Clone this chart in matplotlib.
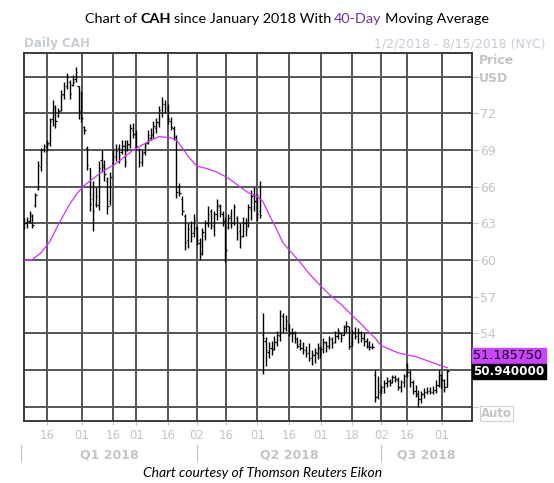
import pandas as pd
import matplotlib
matplotlib.use('Agg')
import matplotlib.pyplot as plt
from matplotlib.patches import Rectangle

# daily OHLC, one bar per trading day starting 2018-01-02
opens = [62.8, 63.0, 63.2, 63.6, 64.5, 65.8, 67.6, 69.0, 69.3, 69.6,
         71.5, 72.4, 71.8, 72.3, 73.5, 74.2, 74.6, 74.3, 74.8, 74.2,
         72.2, 70.9, 69.2, 67.5, 65.0, 64.6, 64.5, 68.2, 67.8, 66.5,
         64.8, 67.9, 68.4, 69.2, 68.8, 69.3, 69.0, 69.4, 70.6, 70.2,
         69.0, 68.0, 68.8, 69.6, 70.0, 70.2, 70.8, 71.2, 72.0, 72.8,
         72.3, 71.4, 70.8, 69.9, 66.0, 65.0, 63.6, 61.6, 62.8, 62.2,
         62.6, 61.4, 60.6, 62.0, 63.0, 64.0, 62.8, 63.8, 64.4, 63.8,
         63.2, 62.7, 63.6, 63.0, 63.4, 62.4, 62.0, 63.0, 62.8, 64.2,
         65.4, 64.8, 64.0, 53.9, 53.4, 52.5, 52.8, 52.7, 53.3, 53.8,
         55.4, 54.4, 54.8, 54.0, 54.0, 53.5, 53.1, 52.8, 52.6, 52.4,
         52.0, 52.2, 52.4, 52.8, 52.7, 53.2, 53.0, 53.5, 53.3, 53.8,
         54.0, 53.9, 54.5, 54.5, 53.2, 54.0, 53.8, 54.0, 53.6, 53.4,
         53.0, 52.9, 50.6, 48.9, 49.4, 49.6, 49.9, 50.1, 50.0, 50.4,
         50.2, 49.6, 50.0, 50.6, 50.8, 50.0, 49.3, 49.0, 48.6, 49.0,
         49.2, 49.3, 49.2, 49.4, 49.8, 50.6, 50.2, 49.6]
highs = [63.4, 63.5, 64.0, 63.8, 65.5, 68.1, 69.2, 69.5, 69.8, 71.6,
         73.1, 72.7, 72.4, 73.9, 74.6, 75.3, 74.7, 75.1, 75.8, 74.2,
         73.8, 71.0, 69.3, 67.5, 66.5, 66.0, 68.1, 69.0, 68.2, 66.8,
         67.2, 69.1, 69.5, 69.5, 69.8, 69.8, 69.8, 71.1, 71.2, 70.6,
         69.2, 69.0, 69.6, 70.6, 70.8, 71.4, 71.6, 72.6, 73.3, 73.1,
         72.8, 71.7, 71.0, 70.2, 66.3, 65.2, 63.8, 63.0, 63.2, 63.8,
         62.8, 61.8, 62.6, 63.3, 64.4, 64.2, 64.0, 65.0, 64.6, 64.0,
         63.5, 63.8, 64.2, 64.6, 63.6, 63.0, 63.5, 63.4, 64.6, 65.7,
         66.0, 65.4, 66.5, 55.7, 53.7, 53.3, 53.4, 53.8, 54.2, 55.9,
         55.7, 55.5, 54.8, 54.4, 54.2, 53.7, 53.5, 53.3, 53.0, 53.2,
         52.6, 52.8, 53.2, 53.0, 53.6, 53.4, 53.8, 53.7, 54.2, 54.4,
         54.0, 54.7, 55.0, 54.6, 54.3, 54.5, 54.4, 54.2, 54.0, 53.6,
         53.4, 53.2, 51.0, 50.5, 49.8, 50.2, 50.4, 50.3, 50.6, 50.6,
         50.4, 50.2, 50.7, 51.6, 51.0, 50.2, 49.8, 49.4, 49.3, 49.5,
         49.6, 49.6, 49.7, 50.2, 51.0, 50.7, 50.3, 51.0]
lows = [62.5, 62.6, 63.0, 62.6, 64.3, 65.7, 67.3, 68.8, 68.9, 69.3,
        71.0, 70.8, 71.7, 72.2, 73.2, 74.0, 73.2, 74.2, 74.6, 71.5,
        71.3, 70.3, 67.4, 64.0, 62.4, 64.3, 64.1, 67.2, 66.5, 63.8,
        64.5, 67.8, 68.1, 67.9, 68.7, 67.6, 68.9, 69.2, 70.0, 69.0,
        67.6, 67.7, 68.6, 69.5, 69.8, 70.0, 70.4, 70.9, 71.7, 72.0,
        71.1, 70.6, 69.8, 65.1, 65.2, 63.7, 60.8, 61.0, 61.5, 61.9,
        61.2, 60.0, 60.4, 61.6, 62.7, 62.5, 62.0, 63.3, 63.5, 62.8,
        59.8, 62.5, 62.6, 62.9, 61.6, 61.0, 61.9, 62.0, 62.7, 63.3,
        64.0, 63.3, 63.4, 50.7, 51.3, 52.0, 52.2, 52.6, 53.0, 53.4,
        54.0, 54.2, 53.8, 53.3, 53.2, 52.8, 52.6, 52.3, 52.1, 51.7,
        51.4, 51.6, 51.9, 52.0, 52.4, 52.5, 52.7, 52.8, 53.2, 53.5,
        53.3, 53.9, 54.1, 52.7, 53.0, 53.5, 53.2, 53.3, 53.0, 52.8,
        52.6, 52.7, 48.4, 48.6, 49.0, 49.1, 49.6, 49.7, 49.9, 50.0,
        49.4, 49.2, 49.6, 50.4, 49.6, 49.0, 48.8, 48.0, 48.3, 48.7,
        49.0, 49.0, 49.0, 49.1, 49.6, 49.5, 49.2, 49.6]
closes = [63.0, 63.2, 63.8, 62.9, 65.3, 67.8, 69.0, 69.3, 69.5, 71.4,
          72.6, 71.4, 72.2, 73.6, 74.2, 75.0, 73.6, 74.6, 75.4, 72.0,
          71.6, 70.6, 67.8, 64.6, 64.0, 65.2, 67.5, 67.6, 67.0, 64.4,
          66.8, 68.5, 68.9, 68.6, 69.4, 68.0, 69.5, 70.8, 70.3, 69.3,
          68.0, 68.7, 69.4, 70.2, 70.3, 71.0, 71.3, 72.3, 72.8, 72.4,
          71.5, 70.9, 70.1, 65.6, 65.5, 64.0, 61.5, 62.5, 62.0, 63.3,
          61.6, 60.5, 62.3, 63.0, 63.8, 62.9, 63.8, 64.6, 63.9, 63.2,
          60.8, 63.4, 63.0, 64.3, 62.2, 61.8, 63.0, 62.5, 64.3, 65.2,
          64.8, 63.8, 63.7, 53.6, 52.6, 52.8, 52.6, 53.3, 53.9, 55.4,
          54.4, 55.0, 54.0, 54.0, 53.5, 53.0, 52.8, 52.6, 52.4, 52.0,
          52.3, 52.5, 52.8, 52.7, 53.3, 53.0, 53.5, 53.2, 53.8, 54.2,
          53.6, 54.5, 54.6, 53.0, 54.0, 53.8, 54.1, 53.6, 53.4, 53.0,
          52.9, 52.9, 48.8, 49.2, 49.6, 49.9, 50.1, 49.9, 50.4, 50.3,
          49.6, 50.0, 50.5, 50.8, 50.0, 49.3, 49.0, 48.6, 49.0, 49.2,
          49.3, 49.2, 49.4, 49.8, 50.6, 50.2, 49.6, 50.94]

# 40-day moving average (bar index, value)
ma_idx = [0, 3, 6, 9, 12, 16, 19, 21, 27, 32, 38, 44, 47, 51, 53, 55, 57,
          60, 64, 67, 71, 75, 78, 81, 83, 85, 88, 90, 93, 96, 99, 103, 106,
          110, 113, 117, 119, 122, 124, 130, 136, 142, 147]
ma_vals = [59.95, 60.05, 60.6, 61.5, 62.9, 64.6, 65.6, 66.1, 67.2, 67.9,
           69.0, 69.8, 70.1, 70.0, 69.8, 69.2, 68.5, 67.7, 67.45, 67.2,
           66.7, 66.0, 65.5, 65.2, 64.8, 63.8, 62.4, 61.4, 60.6, 59.8,
           58.9, 57.9, 57.2, 56.4, 55.7, 54.8, 54.3, 53.6, 53.0, 52.4,
           52.1, 51.6, 51.19]

holidays = ['2018-01-15', '2018-02-19', '2018-03-30', '2018-05-28', '2018-07-04']
tick_dates = ['2018-01-16', '2018-02-01', '2018-02-16', '2018-03-01', '2018-03-16',
              '2018-04-02', '2018-04-16', '2018-05-01', '2018-05-16', '2018-06-01',
              '2018-06-18', '2018-07-02', '2018-07-16', '2018-08-01']
tick_labels = ['16', '01', '16', '01', '16', '02', '16', '01', '16', '01',
               '18', '02', '16', '01']
quarter_starts = ['2018-01-02', '2018-04-02', '2018-07-02']
quarter_labels = ['Q1 2018', 'Q2 2018', 'Q3 2018']
price_ticks = [48, 51, 54, 57, 60, 63, 66, 69, 72, 75]
last_ma = 51.185750
last_close = 50.940000

days = pd.bdate_range('2018-01-02', '2018-08-15')
days = days[~days.isin(pd.to_datetime(holidays))]
pos = {d: i for i, d in enumerate(days)}
grid_x = [pos[pd.Timestamp(d)] - 0.9 for d in tick_dates]
q_x = [pos[pd.Timestamp(d)] - 0.9 for d in quarter_starts]

W, H = 554, 483
GRAY = '#c4c4c4'

fig = plt.figure(figsize=(W / 100, H / 100), dpi=100)
ax = fig.add_axes([23.5 / W, 62 / H, 448.5 / W, 368 / H])

x = list(range(len(closes)))
ax.vlines(x, lows, highs, color='black', lw=1.0, zorder=3)
ax.hlines(opens, [i - 0.45 for i in x], x, color='black', lw=0.9, zorder=3)
ax.hlines(closes, x, [i + 0.45 for i in x], color='black', lw=0.9, zorder=3)
ax.plot(ma_idx, ma_vals, color='#cc33ff', lw=0.9, zorder=4)

ax.set_xlim(-0.1, 155.6)
ax.set_ylim(46.83, 76.94)
ax.set_xticks(grid_x)
ax.set_xticklabels(tick_labels)
ax.set_yticks(price_ticks)
ax.set_yticklabels(['' if v in (48, 51, 75) else str(v) for v in price_ticks])
ax.yaxis.tick_right()
ax.grid(True, color='#555555', lw=1.4, zorder=1)
ax.tick_params(axis='x', colors=GRAY, length=3, width=0.8, pad=3, labelsize=8.5)
ax.tick_params(axis='y', colors=GRAY, length=4.5, width=0.8, pad=1, labelsize=9)
for s in ax.spines.values():
    s.set_color('#3a3a3a')
    s.set_linewidth(1.4)

# quarter row under the date ticks
tr = ax.get_xaxis_transform()
edges = q_x + [ax.get_xlim()[1]]
for i, lab in enumerate(quarter_labels):
    ax.plot([q_x[i], q_x[i]], [-0.065, -0.11], transform=tr, color=GRAY,
            lw=0.9, clip_on=False)
    ax.text((edges[i] + edges[i + 1]) / 2, -0.092, lab, transform=tr,
            ha='center', va='center', color=GRAY, fontsize=9, fontweight='bold')


def fx(px):
    return px / W


def fy(py):
    return 1 - py / H


# title with mixed styles
renderer = fig.canvas.get_renderer()
parts = [('Chart of', {}), ('CAH', {'fontweight': 'bold'}),
         ('since January 2018 With', {}), ('40-Day', {'color': '#7030a0'}),
         ('Moving Average', {})]
texts = [fig.text(0, fy(19), s, fontsize=10.4, family='Lato', va='center', **kw)
         for s, kw in parts]
widths = [t.get_window_extent(renderer).width for t in texts]
space = 3.0
total = sum(widths) + space * (len(widths) - 1)
cur = 287 - total / 2
for t, w in zip(texts, widths):
    t.set_x(fx(cur))
    cur += w + space

fig.text(fx(24), fy(44), 'Daily CAH', fontsize=8.6, fontweight='bold',
         color='#c8ccd4', va='center')
fig.text(fx(545), fy(44), '1/2/2018 - 8/15/2018 (NYC)', fontsize=9,
         color='#c8ccd4', va='center', ha='right')
fig.text(fx(479), fy(61), 'Price', fontsize=9, fontweight='bold', color=GRAY,
         va='center')
fig.text(fx(479), fy(78), 'USD', fontsize=9, fontweight='bold', color=GRAY,
         va='center')

# last value boxes
fig.patches.append(Rectangle((fx(472), fy(363)), 74 / W, 15 / H,
                             transform=fig.transFigure, color='#cc44ff'))
fig.patches.append(Rectangle((fx(472), fy(379)), 74 / W, 15 / H,
                             transform=fig.transFigure, color='black'))
fig.text(fx(473), fy(355.5), f'{last_ma:.6f}', fontsize=9.2, color='black',
         va='center')
fig.text(fx(473), fy(371.5), f'{last_close:.6f}', fontsize=8.6,
         fontweight='bold', color='white', va='center')
fig.text(fx(481), fy(413.5), 'Auto', fontsize=8.5, fontweight='bold', color=GRAY,
         va='center', bbox=dict(boxstyle='square,pad=0.12', fc='white',
                                ec='#d0d0d0', lw=0.8))

fig.text(fx(263), fy(473), 'Chart courtesy of Thomson Reuters Eikon',
         fontsize=10, style='italic', family='Lato', ha='center', va='center')

fig.savefig('out.png', dpi=100)
